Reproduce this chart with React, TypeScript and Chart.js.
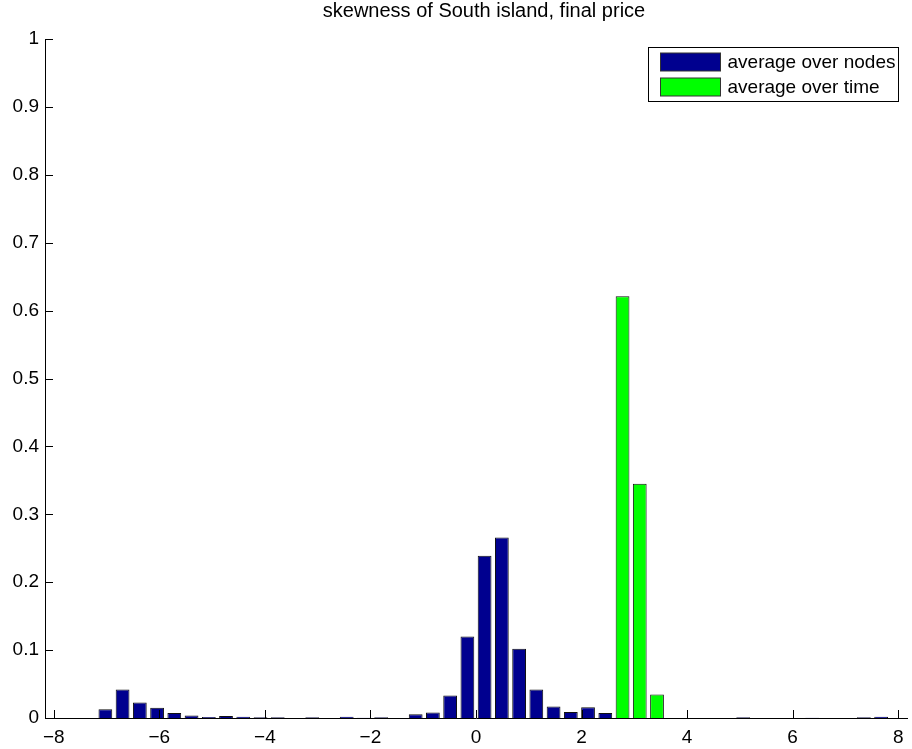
import React, { useEffect, useRef } from "react";
import { Chart, registerables } from "chart.js";

Chart.register(...registerables);

// ---- data ----
const binCenters = [
  -8.003, -7.677, -7.35, -7.023, -6.697, -6.37, -6.043, -5.717, -5.39, -5.063,
  -4.737, -4.41, -4.083, -3.757, -3.43, -3.103, -2.777, -2.45, -2.123, -1.797,
  -1.47, -1.143, -0.817, -0.49, -0.163, 0.163, 0.49, 0.817, 1.143, 1.47,
  1.797, 2.123, 2.45, 2.777, 3.103, 3.43, 3.757, 4.083, 4.41, 4.737,
  5.063, 5.39, 5.717, 6.043, 6.37, 6.697, 7.023, 7.35, 7.677, 8.003,
];

const avgOverNodes = [
  0, 0, 0, 0.013, 0.042, 0.023, 0.015, 0.0075, 0.0035, 0.0015,
  0.003, 0.002, 0.001, 0.001, 0, 0.001, 0, 0.002, 0.0005, 0.001,
  0, 0.0055, 0.008, 0.033, 0.12, 0.239, 0.266, 0.102, 0.042, 0.017,
  0.009, 0.016, 0.0075, 0, 0, 0, 0, 0, 0, 0,
  0.001, 0, 0, 0, 0.0005, 0, 0, 0.001, 0.002, 0,
];

const avgOverTime = [
  0, 0, 0, 0, 0, 0, 0, 0, 0, 0,
  0, 0, 0, 0, 0, 0, 0, 0, 0, 0,
  0, 0, 0, 0, 0, 0, 0, 0, 0, 0,
  0, 0, 0, 0.621, 0.345, 0.0345, 0, 0, 0, 0,
  0, 0, 0, 0, 0, 0, 0, 0, 0, 0,
];

const seriesLabels = ["average over nodes", "average over time"];
const seriesColors = ["#00008F", "#00FF00"];
const titleText = "skewness of South island, final price";

const xTickValues = [-8, -6, -4, -2, 0, 2, 4, 6, 8];
const xTickLabels = ["\u22128", "\u22126", "\u22124", "\u22122", "0", "2", "4", "6", "8"];
const yTickValues = [0, 0.1, 0.2, 0.3, 0.4, 0.5, 0.6, 0.7, 0.8, 0.9, 1];
const yTickLabels = ["0", "0.1", "0.2", "0.3", "0.4", "0.5", "0.6", "0.7", "0.8", "0.9", "1"];

const X_MIN = -8.167;
const X_MAX = 8.167;

const FONT = '"Liberation Sans", Arial, Helvetica, sans-serif';

const matlabDecor = {
  id: "matlabDecor",
  afterDatasetsDraw(chart: any) {
    const { ctx, chartArea, scales } = chart;
    ctx.save();
    ctx.strokeStyle = "#000";
    ctx.lineWidth = 1;
    ctx.beginPath();
    xTickValues.forEach((v) => {
      const px = Math.round(scales.x.getPixelForValue(v)) + 0.5;
      ctx.moveTo(px, chartArea.bottom);
      ctx.lineTo(px, chartArea.bottom - 8);
    });
    yTickValues.forEach((v) => {
      const py = Math.round(scales.y.getPixelForValue(v)) + 0.5;
      ctx.moveTo(chartArea.left, py);
      ctx.lineTo(chartArea.left + 8, py);
    });
    ctx.stroke();
    ctx.restore();
  },
  afterDraw(chart: any) {
    const { ctx, chartArea } = chart;
    ctx.save();
    // title
    ctx.fillStyle = "#000";
    ctx.font = `20px ${FONT}`;
    ctx.textAlign = "center";
    ctx.textBaseline = "middle";
    ctx.fillText(titleText, (chartArea.left + chartArea.right) / 2 + 8, 11);

    // legend
    const boxW = 250;
    const boxH = 54;
    const bx = Math.round(chartArea.right - 9 - boxW) + 0.5;
    const by = Math.round(chartArea.top + 8) + 0.5;
    ctx.fillStyle = "#fff";
    ctx.fillRect(bx, by, boxW, boxH);
    ctx.strokeStyle = "#000";
    ctx.lineWidth = 1;
    ctx.strokeRect(bx, by, boxW, boxH);
    ctx.font = `19px ${FONT}`;
    ctx.textAlign = "left";
    ctx.textBaseline = "middle";
    seriesLabels.forEach((lab, i) => {
      const sy = by + 5.5 + i * 25;
      ctx.fillStyle = seriesColors[i];
      ctx.fillRect(bx + 12, sy, 60, 18);
      ctx.strokeStyle = "#333";
      ctx.strokeRect(bx + 12, sy, 60, 18);
      ctx.fillStyle = "#000";
      ctx.fillText(lab, bx + 79, sy + 10);
    });
    ctx.restore();
  },
};

export default function App() {
  const canvasRef = useRef<HTMLCanvasElement | null>(null);

  useEffect(() => {
    const canvas = canvasRef.current;
    if (!canvas) return;
    Chart.defaults.font.family = FONT;
    Chart.defaults.font.size = 19;
    Chart.defaults.color = "#000";

    const chart = new Chart(canvas, {
      type: "bar",
      data: {
        datasets: [
          {
            label: seriesLabels[0],
            data: binCenters.map((x, i) => ({ x, y: avgOverNodes[i] })),
            backgroundColor: seriesColors[0],
            borderColor: "#111",
            borderWidth: 1,
            grouped: false,
            categoryPercentage: 1,
            barPercentage: 0.8,
          } as any,
          {
            label: seriesLabels[1],
            data: binCenters.map((x, i) => ({ x, y: avgOverTime[i] })),
            backgroundColor: seriesColors[1],
            borderColor: "#111",
            borderWidth: 1,
            grouped: false,
            categoryPercentage: 1,
            barPercentage: 0.8,
          } as any,
        ],
      },
      options: {
        responsive: false,
        animation: false,
        layout: { padding: { top: 39, right: 5, left: 0, bottom: 0 } },
        plugins: {
          legend: { display: false },
          title: { display: false },
          tooltip: { enabled: false },
        },
        scales: {
          x: {
            type: "linear",
            min: X_MIN,
            max: X_MAX,
            offset: false,
            grid: { display: false, drawTicks: false },
            border: { display: true, color: "#000", width: 1 },
            afterBuildTicks: (scale: any) => {
              scale.ticks = xTickValues.map((v) => ({ value: v }));
            },
            afterFit: (scale: any) => {
              scale.height = 31;
            },
            ticks: {
              padding: 8,
              maxRotation: 0,
              autoSkip: false,
              color: "#000",
              font: { size: 19, family: FONT },
              callback: (v: any) => {
                const i = xTickValues.indexOf(Number(v));
                return i >= 0 ? xTickLabels[i] : "";
              },
            },
          },
          y: {
            type: "linear",
            min: 0,
            max: 1,
            grid: { display: false, drawTicks: false },
            border: { display: true, color: "#000", width: 1 },
            afterBuildTicks: (scale: any) => {
              scale.ticks = yTickValues.map((v) => ({ value: v }));
            },
            afterFit: (scale: any) => {
              scale.width = 45;
            },
            ticks: {
              padding: 6,
              autoSkip: false,
              color: "#000",
              font: { size: 19, family: FONT },
              callback: (v: any) => {
                const i = yTickValues.findIndex((t) => Math.abs(t - Number(v)) < 1e-9);
                return i >= 0 ? yTickLabels[i] : "";
              },
            },
          },
        },
      },
      plugins: [matlabDecor],
    } as any);

    return () => {
      chart.destroy();
    };
  }, []);

  return (
    <div style={{ position: "fixed", left: 0, top: 0, width: 912, height: 749, background: "#fff" }}>
      <canvas ref={canvasRef} width={912} height={749} style={{ display: "block" }} />
    </div>
  );
}
